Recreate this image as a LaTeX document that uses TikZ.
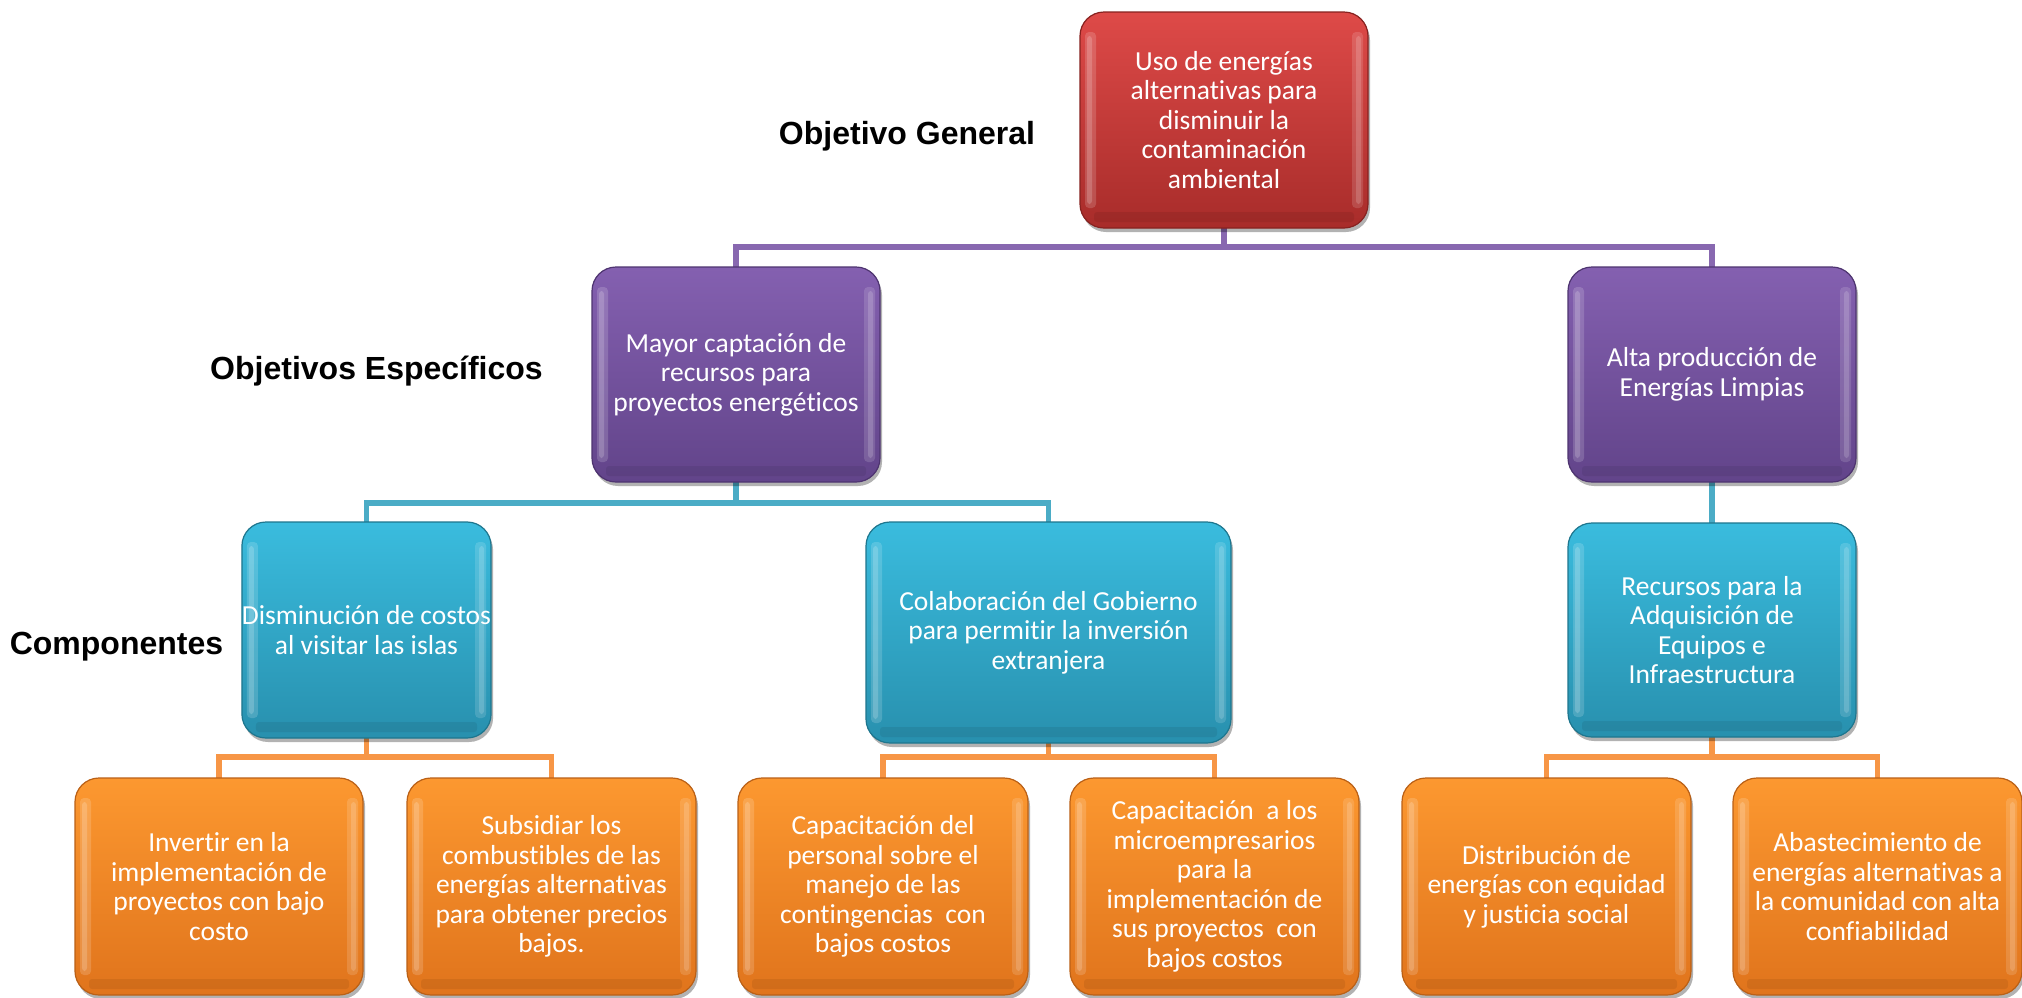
\documentclass[tikz,border=0pt]{standalone}
\usepackage{fontspec}
\setmainfont{Carlito}[Ligatures=CommonOff]
\newfontfamily\headfont{Liberation Sans}
\usetikzlibrary{shadows}

% palette
\definecolor{redtop}{RGB}{222,74,72}
\definecolor{redbot}{RGB}{168,44,42}
\definecolor{rededge}{RGB}{135,34,32}
\definecolor{purtop}{RGB}{132,96,176}
\definecolor{purbot}{RGB}{98,68,138}
\definecolor{puredge}{RGB}{78,52,112}
\definecolor{cyatop}{RGB}{58,188,222}
\definecolor{cyabot}{RGB}{40,144,174}
\definecolor{cyaedge}{RGB}{30,118,142}
\definecolor{orgtop}{RGB}{252,152,48}
\definecolor{orgbot}{RGB}{224,116,28}
\definecolor{orgedge}{RGB}{186,96,22}
\definecolor{purline}{RGB}{136,104,176}
\definecolor{cyaline}{RGB}{75,172,198}
\definecolor{orgline}{RGB}{247,150,70}

\tikzset{
  x=1pt, y=-1pt,
  card/.style={
    rounded corners=24pt, inner sep=0pt, align=center, text=white,
    font=\fontsize{27.5}{29.5}\selectfont, line width=1.2pt,
    drop shadow={shadow xshift=2pt, shadow yshift=-4pt, opacity=.3, fill=black},
    path picture={
      \path[fill=white, fill opacity=.16, rounded corners=4pt]
        ([xshift=5pt,yshift=-20pt]path picture bounding box.north west)
        rectangle ([xshift=16pt,yshift=20pt]path picture bounding box.south west);
      \path[fill=white, fill opacity=.18, rounded corners=3pt]
        ([xshift=7pt,yshift=-24pt]path picture bounding box.north west)
        rectangle ([xshift=12pt,yshift=24pt]path picture bounding box.south west);
      \path[fill=white, fill opacity=.14, rounded corners=4pt]
        ([xshift=-16pt,yshift=-20pt]path picture bounding box.north east)
        rectangle ([xshift=-5pt,yshift=20pt]path picture bounding box.south east);
      \path[fill=white, fill opacity=.16, rounded corners=3pt]
        ([xshift=-12pt,yshift=-24pt]path picture bounding box.north east)
        rectangle ([xshift=-7pt,yshift=24pt]path picture bounding box.south east);
      \path[fill=black, fill opacity=.07, rounded corners=3pt]
        ([xshift=14pt,yshift=16pt]path picture bounding box.south west)
        rectangle ([xshift=-14pt,yshift=6pt]path picture bounding box.south east);
    }},
  redcard/.style={card, top color=redtop, bottom color=redbot, draw=rededge},
  purcard/.style={card, top color=purtop, bottom color=purbot, draw=puredge},
  cyacard/.style={card, top color=cyatop, bottom color=cyabot, draw=cyaedge},
  orgcard/.style={card, top color=orgtop, bottom color=orgbot, draw=orgedge},
  dims/.style 2 args={minimum width=#1pt, minimum height=#2pt},
  conn/.style={line width=5.5pt, line join=miter},
  level/.style={font=\headfont\bfseries\fontsize{32}{36}\selectfont, text=black, inner sep=0pt}
}

\begin{document}
\begin{tikzpicture}
\useasboundingbox[fill=white] (0,0) rectangle (2022,997);

% level captions
\node[level] (lgen) at (907,136) {Objetivo General};
\node[level] (lesp) at (376.5,371) {Objetivos Específicos};
\node[level] (lcomp) at (116.5,647) {Componentes};

% bus coordinates
\coordinate (pbus) at (0,247);
\coordinate (cbus) at (0,503);
\coordinate (obus) at (0,757);

% connector end points (drawn first, boxes sit on top)
\coordinate (redfoot) at (1224,228);
\coordinate (mayhead) at (736,267);
\coordinate (althead) at (1712,267);
\coordinate (mayfoot) at (736,482);
\coordinate (altfoot) at (1712,482);
\coordinate (dishead) at (366.5,522);
\coordinate (colhead) at (1048.5,522);
\coordinate (rechead) at (1712,523);
\coordinate (disfoot) at (366.5,738);
\coordinate (colfoot) at (1048.5,743);
\coordinate (recfoot) at (1712,737);
\coordinate (invhead) at (219,778);
\coordinate (subhead) at (551.5,778);
\coordinate (cpphead) at (883,778);
\coordinate (cpmhead) at (1214.5,778);
\coordinate (dsthead) at (1546.5,778);
\coordinate (abshead) at (1877.5,778);

\draw[conn, purline] (redfoot) -- (redfoot |- pbus);
\draw[conn, purline] (mayhead) |- (pbus -| althead) -- (althead);
\draw[conn, cyaline] (mayfoot) -- (mayfoot |- cbus);
\draw[conn, cyaline] (dishead) |- (cbus -| colhead) -- (colhead);
\draw[conn, cyaline] (altfoot) -- (rechead);
\draw[conn, orgline] (disfoot) -- (disfoot |- obus);
\draw[conn, orgline] (invhead) |- (obus -| subhead) -- (subhead);
\draw[conn, orgline] (colfoot) -- (colfoot |- obus);
\draw[conn, orgline] (cpphead) |- (obus -| cpmhead) -- (cpmhead);
\draw[conn, orgline] (recfoot) -- (recfoot |- obus);
\draw[conn, orgline] (dsthead) |- (obus -| abshead) -- (abshead);

% general objective
\node[redcard, dims={288}{216}] (gen) at (1224,120)
  {Uso de energías\\alternativas para\\disminuir la\\contaminación\\ambiental};

% specific objectives
\node[purcard, dims={288}{215}] (may) at (736,374.5)
  {Mayor captación de\\recursos para\\proyectos energéticos};
\node[purcard, dims={288}{215}] (alt) at (1712,374.5)
  {Alta producción de\\Energías Limpias};

% components
\node[cyacard, dims={249}{216}] (dis) at (366.5,630)
  {Disminución de costos\\al visitar las islas};
\node[cyacard, dims={365}{221}] (col) at (1048.5,632.5)
  {Colaboración del Gobierno\\para permitir la inversión\\extranjera};
\node[cyacard, dims={288}{214}] (rec) at (1712,630)
  {Recursos para la\\Adquisición de\\Equipos e\\Infraestructura};

% activities
\node[orgcard, dims={288}{217}] (inv) at (219,886.5)
  {Invertir en la\\implementación de\\proyectos con bajo\\costo};
\node[orgcard, dims={289}{217}] (sub) at (551.5,886.5)
  {Subsidiar los\\combustibles de las\\energías alternativas\\para obtener precios\\bajos.};
\node[orgcard, dims={290}{217}] (cpp) at (883,886.5)
  {Capacitación del\\personal sobre el\\manejo de las\\contingencias\ \ con\\bajos costos};
\node[orgcard, dims={289}{217}] (cpm) at (1214.5,886.5)
  {Capacitación\ \ a los\\microempresarios\\para la\\implementación de\\sus proyectos\ \ con\\bajos costos};
\node[orgcard, dims={289}{217}] (dst) at (1546.5,886.5)
  {Distribución de\\energías con equidad\\y justicia social};
\node[orgcard, dims={289}{217}] (abs) at (1877.5,886.5)
  {Abastecimiento de\\energías alternativas a\\la comunidad con alta\\confiabilidad};
\end{tikzpicture}
\end{document}
